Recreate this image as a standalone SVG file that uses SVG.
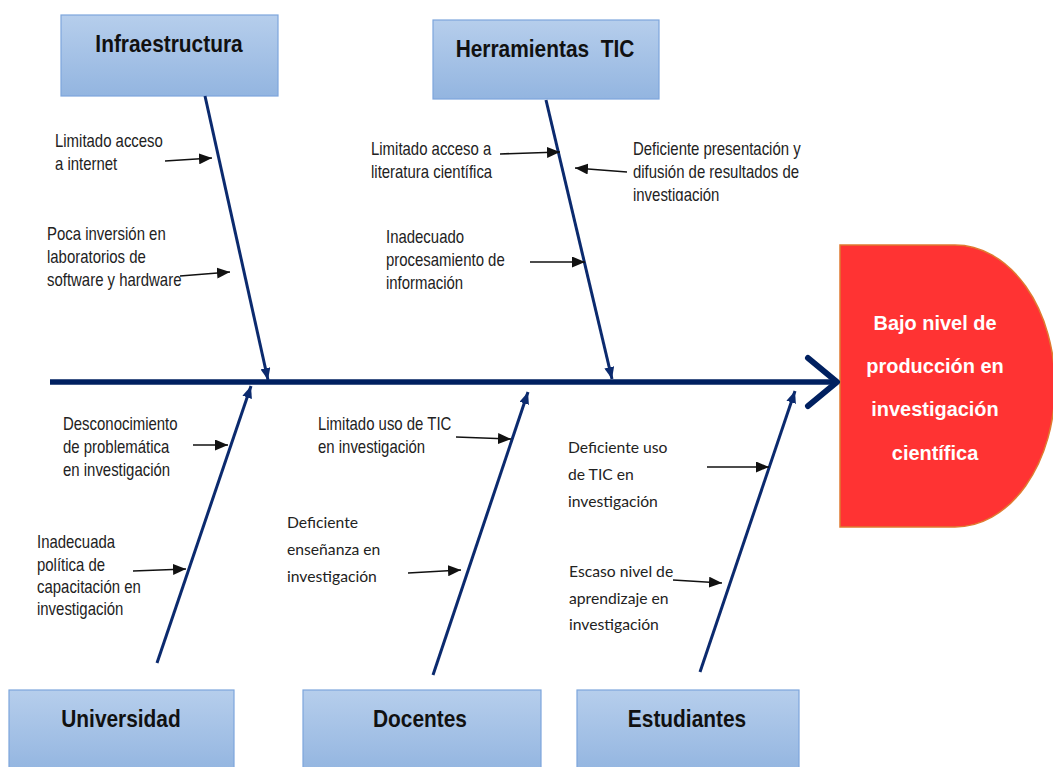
<svg xmlns="http://www.w3.org/2000/svg" width="1053" height="767" viewBox="0 0 1053 767">
<style>
.box{fill:url(#boxg);stroke:#7DA6DC;stroke-width:1.2}
.bt{font-family:"Liberation Sans",Arial,sans-serif;font-weight:bold;font-size:24px;fill:#111;text-anchor:middle}
.lb{font-family:"Liberation Sans",Arial,sans-serif;font-size:18px;fill:#222}
.lc{font-family:Lato,"Liberation Sans",sans-serif;font-size:15.7px;fill:#222}
.bone{stroke:#0B2A6E;stroke-width:3;fill:none;marker-end:url(#bh)}
.sa{stroke:#111;stroke-width:1.6;fill:none;marker-end:url(#sh)}
.rt{font-family:"Liberation Sans",Arial,sans-serif;font-weight:bold;font-size:21px;fill:#fff;text-anchor:middle}
</style>
<defs>
<linearGradient id="boxg" x1="0" y1="0" x2="0" y2="1">
<stop offset="0" stop-color="#B6CEEC"/>
<stop offset="1" stop-color="#93B5E0"/>
</linearGradient>
<marker id="bh" markerUnits="userSpaceOnUse" markerWidth="12" markerHeight="10" refX="12" refY="5" orient="auto">
<path d="M0,0 L12,5 L0,10 z" fill="#0B2A6E"/>
</marker>
<marker id="sh" markerUnits="userSpaceOnUse" markerWidth="13" markerHeight="11" refX="13" refY="5.5" orient="auto">
<path d="M0,0 L13,5.5 L0,11 z" fill="#111"/>
</marker>
<clipPath id="clipT"><rect x="600" y="130" width="260" height="71"/></clipPath>
</defs>
<rect width="1053" height="767" fill="#fff"/>

<g id="effect">
<path d="M840,245 H955 A100,141 0 0 1 955,527 H840 Z" fill="#FF3333" stroke="#E07A30" stroke-width="1.5"/>
<text class="rt" transform="translate(935,330) scale(0.95,1)">Bajo nivel de</text>
<text class="rt" transform="translate(935,373) scale(0.95,1)">producción en</text>
<text class="rt" transform="translate(935,416) scale(0.95,1)">investigación</text>
<text class="rt" transform="translate(935,460) scale(0.95,1)">científica</text>
</g>

<g id="infraestructura">
<rect class="box" x="61" y="15" width="217" height="81"/>
<text class="bt" transform="translate(169,52) scale(0.87,1)">Infraestructura</text>
</g>
<g id="herramientas">
<rect class="box" x="433" y="20" width="226" height="79"/>
<text class="bt" transform="translate(545,57) scale(0.87,1)" xml:space="preserve">Herramientas  TIC</text>
</g>
<g id="universidad">
<rect class="box" x="9" y="690" width="225" height="82"/>
<text class="bt" transform="translate(121,727) scale(0.87,1)">Universidad</text>
</g>
<g id="docentes">
<rect class="box" x="303" y="690" width="238" height="82"/>
<text class="bt" transform="translate(420,727) scale(0.87,1)">Docentes</text>
</g>
<g id="estudiantes">
<rect class="box" x="577" y="690" width="222" height="82"/>
<text class="bt" transform="translate(687,727) scale(0.87,1)">Estudiantes</text>
</g>

<g id="connectors">
<line x1="50" y1="382" x2="836" y2="382" stroke="#002060" stroke-width="5.5"/>
<polyline points="808,358 837,382 808,406" fill="none" stroke="#002060" stroke-width="6" stroke-linecap="round" stroke-linejoin="round"/>
<line class="bone" x1="205" y1="96" x2="268" y2="380"/>
<line class="bone" x1="546" y1="100" x2="612" y2="379"/>
<line class="bone" x1="157" y1="663" x2="251" y2="386"/>
<line class="bone" x1="433" y1="675" x2="528" y2="392"/>
<line class="bone" x1="700" y1="672" x2="795" y2="391"/>
<line class="sa" x1="165" y1="161" x2="212" y2="158"/>
<line class="sa" x1="180" y1="276" x2="230" y2="272"/>
<line class="sa" x1="500" y1="154" x2="560" y2="152"/>
<line class="sa" x1="627" y1="172" x2="575" y2="168"/>
<line class="sa" x1="530" y1="262" x2="585" y2="262"/>
<line class="sa" x1="193" y1="445" x2="228" y2="445"/>
<line class="sa" x1="133" y1="571" x2="186" y2="569"/>
<line class="sa" x1="456" y1="437" x2="511" y2="439"/>
<line class="sa" x1="408" y1="573" x2="461" y2="570"/>
<line class="sa" x1="707" y1="467" x2="769" y2="467"/>
<line class="sa" x1="673" y1="580" x2="722" y2="583"/>
</g>

<g id="labels">
<text class="lb" transform="translate(55,147) scale(0.83,1)">Limitado acceso</text>
<text class="lb" transform="translate(55,170) scale(0.83,1)">a internet</text>
<text class="lb" transform="translate(47,240) scale(0.83,1)">Poca inversión en</text>
<text class="lb" transform="translate(47,263) scale(0.83,1)">laboratorios de</text>
<text class="lb" transform="translate(47,286) scale(0.83,1)">software y hardware</text>
<text class="lb" transform="translate(371,155) scale(0.83,1)">Limitado acceso a</text>
<text class="lb" transform="translate(371,178) scale(0.83,1)">literatura científica</text>
<g clip-path="url(#clipT)">
<text class="lb" transform="translate(633,155) scale(0.83,1)">Deficiente presentación y</text>
<text class="lb" transform="translate(633,178) scale(0.83,1)">difusión de resultados de</text>
<text class="lb" transform="translate(633,201) scale(0.83,1)">investigación</text>
</g>
<text class="lb" transform="translate(386,243) scale(0.83,1)">Inadecuado</text>
<text class="lb" transform="translate(386,266) scale(0.83,1)">procesamiento de</text>
<text class="lb" transform="translate(386,289) scale(0.83,1)">información</text>
<text class="lb" transform="translate(63,430) scale(0.83,1)">Desconocimiento</text>
<text class="lb" transform="translate(63,453) scale(0.83,1)">de problemática</text>
<text class="lb" transform="translate(63,476) scale(0.83,1)">en investigación</text>
<text class="lb" transform="translate(37,548) scale(0.83,1)">Inadecuada</text>
<text class="lb" transform="translate(37,571) scale(0.83,1)">política de</text>
<text class="lb" transform="translate(37,593) scale(0.83,1)">capacitación en</text>
<text class="lb" transform="translate(37,615) scale(0.83,1)">investigación</text>
<text class="lb" transform="translate(318,430) scale(0.83,1)">Limitado uso de TIC</text>
<text class="lb" transform="translate(318,453) scale(0.83,1)">en investigación</text>
<text class="lc" x="287" y="528">Deficiente</text>
<text class="lc" x="287" y="555">enseñanza en</text>
<text class="lc" x="287" y="582">investigación</text>
<text class="lc" x="568" y="453">Deficiente uso</text>
<text class="lc" x="568" y="480">de TIC en</text>
<text class="lc" x="568" y="507">investigación</text>
<text class="lc" x="569" y="577">Escaso nivel de</text>
<text class="lc" x="569" y="604">aprendizaje en</text>
<text class="lc" x="569" y="630">investigación</text>
</g>
</svg>
